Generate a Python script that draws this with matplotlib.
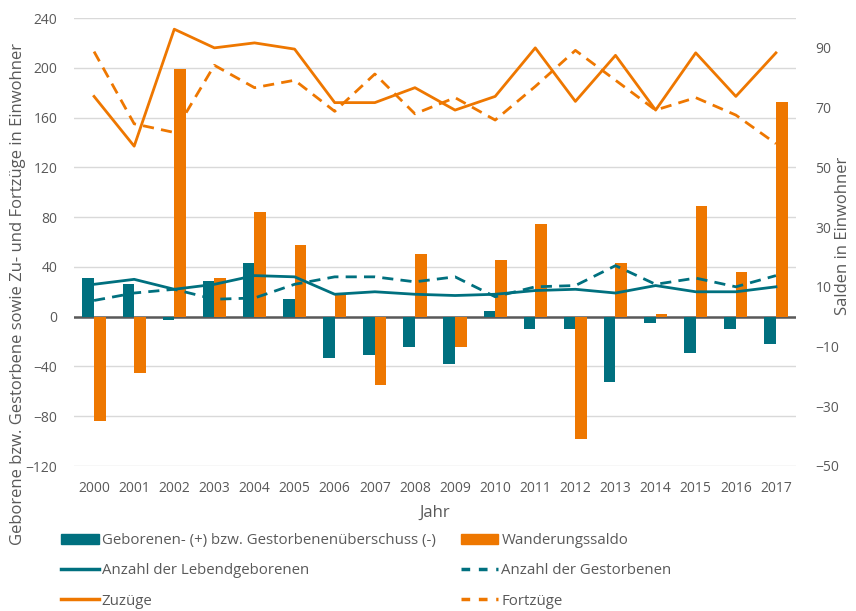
import numpy as np
import matplotlib
matplotlib.use('Agg')
import matplotlib.pyplot as plt
from matplotlib.patches import Patch
from matplotlib.lines import Line2D

plt.rcParams['font.family'] = ['Open Sans', 'DejaVu Sans']

# data
jahre = [str(j) for j in range(2000, 2018)]
lebendgeborene = [26, 30, 22, 26, 33, 32, 18, 20, 18, 17, 18, 21, 22, 19, 25, 20, 20, 24]
gestorbene = [13, 19, 22, 14, 15, 26, 32, 32, 28, 32, 16, 24, 25, 41, 26, 31, 24, 33]
zuzuege = [177, 137, 231, 216, 220, 215, 172, 172, 184, 166, 177, 216, 173, 210, 166, 212, 177, 212]
fortzuege = [213, 155, 148, 202, 184, 190, 165, 195, 163, 176, 158, 185, 214, 190, 166, 176, 162, 139]
natuerl_saldo = [13, 11, -1, 12, 18, 6, -14, -13, -10, -16, 2, -4, -4, -22, -2, -12, -4, -9]
wanderungssaldo = [-35, -19, 83, 13, 35, 24, 8, -23, 21, -10, 19, 31, -41, 18, 1, 37, 15, 72]

teal = '#00707F'
orange = '#EE7700'
grey = '#595959'

fig = plt.figure(figsize=(8.56, 6.11), dpi=100)
ax = fig.add_axes([74/856, 1 - 466/611, (796-74)/856, (466-18)/611])
ax_bar = ax.twinx()
ax_line = ax.twinx()

x = np.arange(len(jahre))
w = 0.29

# bars on the right axis (Salden)
ax_bar.bar(x - w/2, natuerl_saldo, w, color=teal, zorder=2)
ax_bar.bar(x + w/2, wanderungssaldo, w, color=orange, zorder=2)
ax_bar.axhline(0, color=grey, lw=1.8, zorder=1)
ax_bar.set_ylim(-50, 100)
ax_bar.set_yticks(range(-50, 91, 20))

# lines on the left axis scale
ax_line.plot(x, lebendgeborene, color=teal, lw=2)
ax_line.plot(x, gestorbene, color=teal, lw=2, dashes=(4, 2.6))
ax_line.plot(x, zuzuege, color=orange, lw=2)
ax_line.plot(x, fortzuege, color=orange, lw=2, dashes=(4, 2.6))
ax_line.set_ylim(-120, 240)
ax_line.set_yticks([])

ax.set_ylim(-120, 240)
ax.set_yticks(range(-120, 241, 40))
ax.set_xlim(-0.5, len(jahre) - 0.5)
ax.set_xticks(x)
ax.set_xticklabels(jahre)
ax.grid(axis='y', color='#D9D9D9', lw=1)
ax.set_axisbelow(True)

for a in (ax, ax_bar, ax_line):
    for s in a.spines.values():
        s.set_visible(False)
    a.tick_params(length=0, colors=grey, labelsize=10)
ax.tick_params(axis='x', pad=11)
ax.tick_params(axis='y', pad=12)
ax_bar.tick_params(axis='y', pad=14)

ax.set_xlabel('Jahr', fontsize=12, color=grey, labelpad=6)
fig.text(0.021, 1 - 294/611, 'Geborene bzw. Gestorbene sowie Zu- und Fortzüge in Einwohner',
         rotation=90, ha='center', va='center', fontsize=12, color=grey)
fig.text(843/856, 1 - 236/611, 'Salden in Einwohner',
         rotation=90, ha='center', va='center', fontsize=12, color=grey)

h1 = [Patch(color=teal), Line2D([], [], color=teal, lw=2.5), Line2D([], [], color=orange, lw=2.5)]
l1 = ['Geborenen- (+) bzw. Gestorbenenüberschuss (-)', 'Anzahl der Lebendgeborenen', 'Zuzüge']
h2 = [Patch(color=orange), Line2D([], [], color=teal, lw=2.5, dashes=(2.5, 2.5)),
      Line2D([], [], color=orange, lw=2.5, dashes=(2.5, 2.5))]
l2 = ['Wanderungssaldo', 'Anzahl der Gestorbenen', 'Fortzüge']
for h, l, x0 in ((h1, l1, 61), (h2, l2, 461)):
    fig.legend(h, l, loc='upper left', bbox_to_anchor=(x0/856, 1 - 533/611),
               frameon=False, fontsize=10.8, labelcolor=grey, handlelength=2.5,
               handletextpad=0.2, labelspacing=1.02, borderpad=0, borderaxespad=0)

fig.savefig('out.png', dpi=100)
